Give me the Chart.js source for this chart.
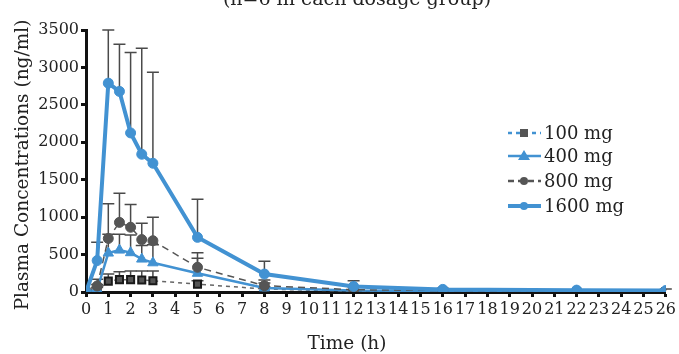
<!DOCTYPE html>
<html>
<head>
<meta charset="utf-8">
<script src="https://cdn.jsdelivr.net/npm/chart.js@4.4.1/dist/chart.umd.min.js"></script>
<style>
html,body{margin:0;padding:0;background:#fff;}
#wrap{position:relative;width:679px;height:354px;}
</style>
</head>
<body>
<div id="wrap"><canvas id="c" width="679" height="354"></canvas></div>
<script>
// ---- data ----
const times    = [0, 0.5, 1, 1.5, 2, 2.5, 3, 5, 8, 12, 16, 22, 26];
const conc100  = [0, 15, 145, 165, 165, 160, 150, 105, 40, 10, 8, 5, 5];
const conc400  = [0, 30, 520, 560, 525, 440, 390, 250, 55, 20, 12, 8, 6];
const conc800  = [0, 80, 715, 930, 865, 700, 685, 330, 85, 30, 20, 12, 10];
const conc1600 = [0, 420, 2790, 2680, 2125, 1840, 1720, 730, 240, 75, 35, 25, 20];
const upper100  = [null, 60, 240, 270, 280, 280, 280, 150, 70, null, null, null, null];
const upper400  = [null, 100, 770, 770, 760, 620, 630, 450, 120, null, null, null, null];
const upper800  = [null, 170, 1180, 1320, 1170, 920, 1000, 525, 160, 60, null, null, null];
const upper1600 = [null, 665, 3500, 3310, 3200, 3255, 2935, 1240, 410, 150, 50, null, 40];
const seriesLabels = ['100 mg', '400 mg', '800 mg', '1600 mg'];
const titleText = '(n=6 in each dosage group)';
const yTitle = 'Plasma Concentrations (ng/ml)';
const xTitle = 'Time (h)';

const BLUE = 'rgb(66,146,210)';
const GRAY = '#555';
const SERIF = '"DejaVu Serif", "Liberation Serif", serif';

const pts = arr => times.map((t, i) => ({x: t, y: arr[i]}));

const datasets = [
  {label: seriesLabels[0], data: pts(conc100), upper: upper100, borderColor: '#666', borderWidth: 1.5, borderDash: [4,4],
   pointStyle: 'rect', pointRadius: 5, pointBackgroundColor: '#555', pointBorderColor: '#1a1a1a', pointBorderWidth: 2, order: 4},
  {label: seriesLabels[1], data: pts(conc400), upper: upper400, borderColor: BLUE, borderWidth: 2.5,
   pointStyle: 'triangle', pointRadius: 6, pointBackgroundColor: BLUE, pointBorderColor: BLUE, pointBorderWidth: 1, order: 3},
  {label: seriesLabels[2], data: pts(conc800), upper: upper800, borderColor: GRAY, borderWidth: 1.5, borderDash: [7,5],
   pointStyle: 'circle', pointRadius: 5, pointBackgroundColor: GRAY, pointBorderColor: GRAY, pointBorderWidth: 1, order: 2},
  {label: seriesLabels[3], data: pts(conc1600), upper: upper1600, borderColor: BLUE, borderWidth: 4,
   pointStyle: 'circle', pointRadius: 5, pointBackgroundColor: BLUE, pointBorderColor: BLUE, pointBorderWidth: 1, order: 1},
];

const errorBars = {
  id: 'errorBars',
  beforeDatasetsDraw(chart) {
    const ctx = chart.ctx, xs = chart.scales.x, ys = chart.scales.y;
    ctx.save();
    ctx.strokeStyle = '#4a4a4a';
    ctx.lineWidth = 1.5;
    chart.data.datasets.forEach(ds => {
      ds.data.forEach((p, i) => {
        const u = ds.upper[i];
        if (u == null) return;
        const x = xs.getPixelForValue(p.x);
        const y0 = ys.getPixelForValue(p.y), y1 = ys.getPixelForValue(u);
        ctx.beginPath();
        ctx.moveTo(x, y0); ctx.lineTo(x, y1);
        ctx.moveTo(x - 6, y1); ctx.lineTo(x + 6, y1);
        ctx.stroke();
      });
    });
    ctx.restore();
  }
};

const texts = {
  id: 'texts',
  afterDraw(chart) {
    const ctx = chart.ctx;
    ctx.save();
    ctx.fillStyle = '#222';
    ctx.textAlign = 'center';
    ctx.textBaseline = 'alphabetic';
    ctx.font = '19px ' + SERIF;
    ctx.fillText(titleText, 357, 5);
    ctx.font = '18.5px ' + SERIF;
    ctx.fillText(xTitle, 347, 349);
    ctx.save();
    ctx.translate(28, 165);
    ctx.rotate(-Math.PI / 2);
    ctx.fillText(yTitle, 0, 0);
    ctx.restore();
    // legend
    const rows = [133, 156, 181, 206];
    const dsets = chart.data.datasets;
    ctx.textAlign = 'left';
    ctx.textBaseline = 'middle';
    rows.forEach((y, k) => {
      const ds = dsets[k];
      ctx.save();
      ctx.strokeStyle = k === 0 ? BLUE : ds.borderColor;
      ctx.lineWidth = k === 3 ? 4 : 2.5;
      ctx.setLineDash(k === 0 ? [4,4] : (k === 2 ? [6,4] : []));
      ctx.beginPath(); ctx.moveTo(508, y); ctx.lineTo(541, y); ctx.stroke();
      ctx.setLineDash([]);
      ctx.fillStyle = ds.pointBackgroundColor;
      ctx.beginPath();
      if (k === 0) { ctx.fillStyle = '#555'; ctx.fillRect(520, y - 4, 8, 8); }
      else if (k === 1) { ctx.moveTo(524, y - 6); ctx.lineTo(530, y + 4); ctx.lineTo(518, y + 4); ctx.closePath(); ctx.fill(); }
      else { ctx.arc(524, y, 4, 0, Math.PI * 2); ctx.fill(); }
      ctx.restore();
      ctx.fillStyle = '#222';
      ctx.font = '18px ' + SERIF;
      ctx.fillText(ds.label, 544, y + 1);
    });
    ctx.restore();
  }
};

new Chart(document.getElementById('c'), {
  type: 'line',
  data: {datasets},
  options: {
    responsive: false,
    animation: false,
    layout: {padding: {top: 30, right: 13, left: 0, bottom: 0}},
    plugins: {legend: {display: false}, tooltip: {enabled: false}, title: {display: false}},
    elements: {line: {tension: 0}},
    scales: {
      x: {
        type: 'linear', min: 0, max: 26,
        afterFit: s => { s.height = 62; },
        ticks: {stepSize: 1, autoSkip: false, maxRotation: 0, padding: 3, color: '#222',
                font: {family: SERIF, size: 16}, callback: v => String(v)},
        grid: {drawOnChartArea: false, drawTicks: true, tickLength: 5, tickWidth: 3, tickColor: '#111'},
        border: {display: true, width: 3, color: '#111'}
      },
      y: {
        min: 0, max: 3500,
        afterFit: s => { s.width = 86; },
        ticks: {stepSize: 500, padding: 2, color: '#222', font: {family: SERIF, size: 16}, callback: v => String(v)},
        grid: {drawOnChartArea: false, drawTicks: true, tickLength: 5, tickWidth: 3, tickColor: '#111'},
        border: {display: true, width: 3, color: '#111'}
      }
    }
  },
  plugins: [errorBars, texts]
});
</script>
</body>
</html>
